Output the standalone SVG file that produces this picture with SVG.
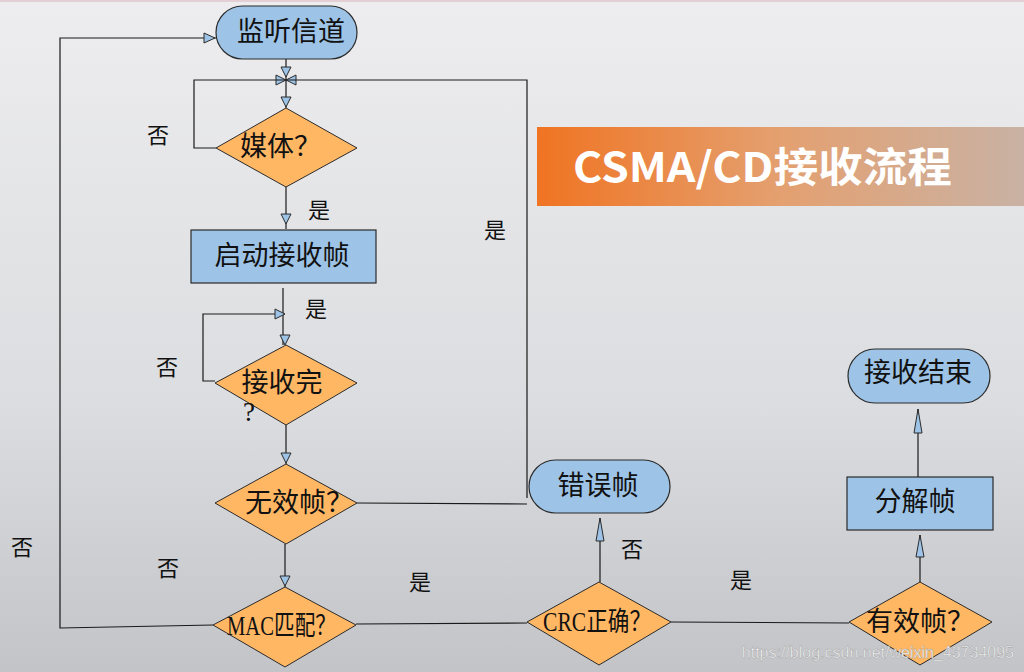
<svg xmlns="http://www.w3.org/2000/svg" width="1024" height="672" viewBox="0 0 1024 672">
<defs>
<linearGradient id="bg" x1="0" y1="0" x2="0" y2="1">
<stop offset="0" stop-color="#ededef"/>
<stop offset="0.6" stop-color="#dcdde0"/>
<stop offset="1" stop-color="#c3c4c8"/>
</linearGradient>
<linearGradient id="ban" x1="0" y1="0" x2="1" y2="0">
<stop offset="0" stop-color="#f07422"/>
<stop offset="0.5" stop-color="#e4a070"/>
<stop offset="1" stop-color="#c9b2a4"/>
</linearGradient>
<style>
.pill{fill:#9dc3e6;stroke:#2b2b2b;stroke-width:1.2}
.box{fill:#9dc3e6;stroke:#2b2b2b;stroke-width:1.2}
.dia{fill:#ffb764;stroke:#2b2b2b;stroke-width:1}
.ln{fill:none;stroke:#1a1a1a;stroke-width:1.2}
.ah{fill:#9dc3e6;stroke:#2b2b2b;stroke-width:1}
.t{font-family:"Liberation Serif","Noto Sans CJK SC",serif;font-size:27px;fill:#111;dominant-baseline:central}
.lb{font-family:"Noto Sans CJK SC",sans-serif;font-size:22px;fill:#111;text-anchor:middle;dominant-baseline:central}
.c{text-anchor:middle}
</style>
</defs>
<rect width="1024" height="672" fill="url(#bg)"/>
<rect width="1024" height="2" fill="#e4cfd4"/>

<g id="title">
<rect x="537" y="127" width="487" height="79" fill="url(#ban)"/>
<text x="573" y="182" font-family="'Noto Sans CJK SC',sans-serif" font-weight="bold" font-size="41" fill="#ffffff" textLength="379" lengthAdjust="spacingAndGlyphs">CSMA/CD接收流程</text>
</g>

<g id="connectors">
<path class="ln" d="M286 59V108"/>
<polygon class="ah" points="281,67 291,67 286,77"/>
<polygon class="ah" points="276,75 276,85 286,80"/>
<polygon class="ah" points="296,75 296,85 286,80"/>
<polygon class="ah" points="281,97 291,97 286,107"/>
<path class="ln" d="M216 148H194V80H286"/>
<path class="ln" d="M357 503L527 504"/>
<path class="ln" d="M527 498V80H286"/>
<path class="ln" d="M286 187V229"/>
<polygon class="ah" points="281,214 291,214 286,224"/>
<path class="ln" d="M283 288V345"/>
<polygon class="ah" points="280,335 290,335 285,345"/>
<path class="ln" d="M215 381H203V314H285"/>
<polygon class="ah" points="275,309 275,319 285,314"/>
<path class="ln" d="M286 425V464"/>
<polygon class="ah" points="281,453 291,453 286,463"/>
<path class="ln" d="M285 544V587"/>
<polygon class="ah" points="280,576 290,576 285,586"/>
<path class="ln" d="M213 625L60 628V38H216"/>
<polygon class="ah" points="204,33 204,43 215,38"/>
<path class="ln" d="M356 624L527 623"/>
<path class="ln" d="M600 582V518"/>
<polygon class="ah" points="596,541 604,541 600,518"/>
<path class="ln" d="M671 622L849 623"/>
<path class="ln" d="M920 582V535"/>
<polygon class="ah" points="916,557 924,557 920,535"/>
<path class="ln" d="M918 477V409"/>
<polygon class="ah" points="914,433 922,433 918,409"/>
</g>

<g id="listen">
<rect class="pill" x="216" y="6" width="141" height="53" rx="26.5"/>
<text class="t c" x="291" y="32">监听信道</text>
</g>
<g id="media">
<polygon class="dia" points="286,108 357,148 286,187 216,148"/>
<text class="t" x="240" y="147">媒体？</text>
</g>
<g id="start">
<rect class="box" x="191" y="230" width="185" height="53"/>
<text class="t c" x="282" y="256">启动接收帧</text>
</g>
<g id="done">
<polygon class="dia" points="286,345 357,383 286,425 215,383"/>
<text class="t c" x="282" y="383">接收完</text>
<text class="t c" x="249" y="412" font-size="21">?</text>
</g>
<g id="invalid">
<polygon class="dia" points="286,464 357,503 286,544 215,503"/>
<text class="t" x="245" y="503">无效帧？</text>
</g>
<g id="mac">
<polygon class="dia" points="285,587 356,625 285,667 213,625"/>
<text class="t" x="227" y="626" textLength="109" lengthAdjust="spacingAndGlyphs">MAC匹配？</text>
</g>
<g id="crc">
<polygon class="dia" points="599,582 671,622 599,665 527,622"/>
<text class="t" x="543" y="622" textLength="108" lengthAdjust="spacingAndGlyphs">CRC正确？</text>
</g>
<g id="error">
<rect class="pill" x="529" y="460" width="141" height="53" rx="26.5"/>
<text class="t c" x="598" y="486">错误帧</text>
</g>
<g id="valid">
<polygon class="dia" points="920,582 992,622 920,665 849,622"/>
<text class="t" x="866" y="622">有效帧？</text>
</g>
<g id="split">
<rect class="box" x="847" y="477" width="146" height="53"/>
<text class="t c" x="915" y="502">分解帧</text>
</g>
<g id="end">
<rect class="pill" x="848" y="349" width="142" height="54" rx="27"/>
<text class="t c" x="918" y="373">接收结束</text>
</g>

<g id="labels">
<text class="lb" x="158" y="133">否</text>
<text class="lb" x="319" y="208">是</text>
<text class="lb" x="316" y="307">是</text>
<text class="lb" x="167" y="365">否</text>
<text class="lb" x="495" y="228">是</text>
<text class="lb" x="22" y="545">否</text>
<text class="lb" x="168" y="566">否</text>
<text class="lb" x="420" y="580">是</text>
<text class="lb" x="632" y="547">否</text>
<text class="lb" x="741" y="578">是</text>
</g>

<text x="1014" y="658" text-anchor="end" font-family="'Liberation Sans',sans-serif" font-size="16" fill="#f6f6f6" stroke="#9a9a9a" stroke-width="0.4">https://blog.csdn.net/weixin_43734095</text>
</svg>
